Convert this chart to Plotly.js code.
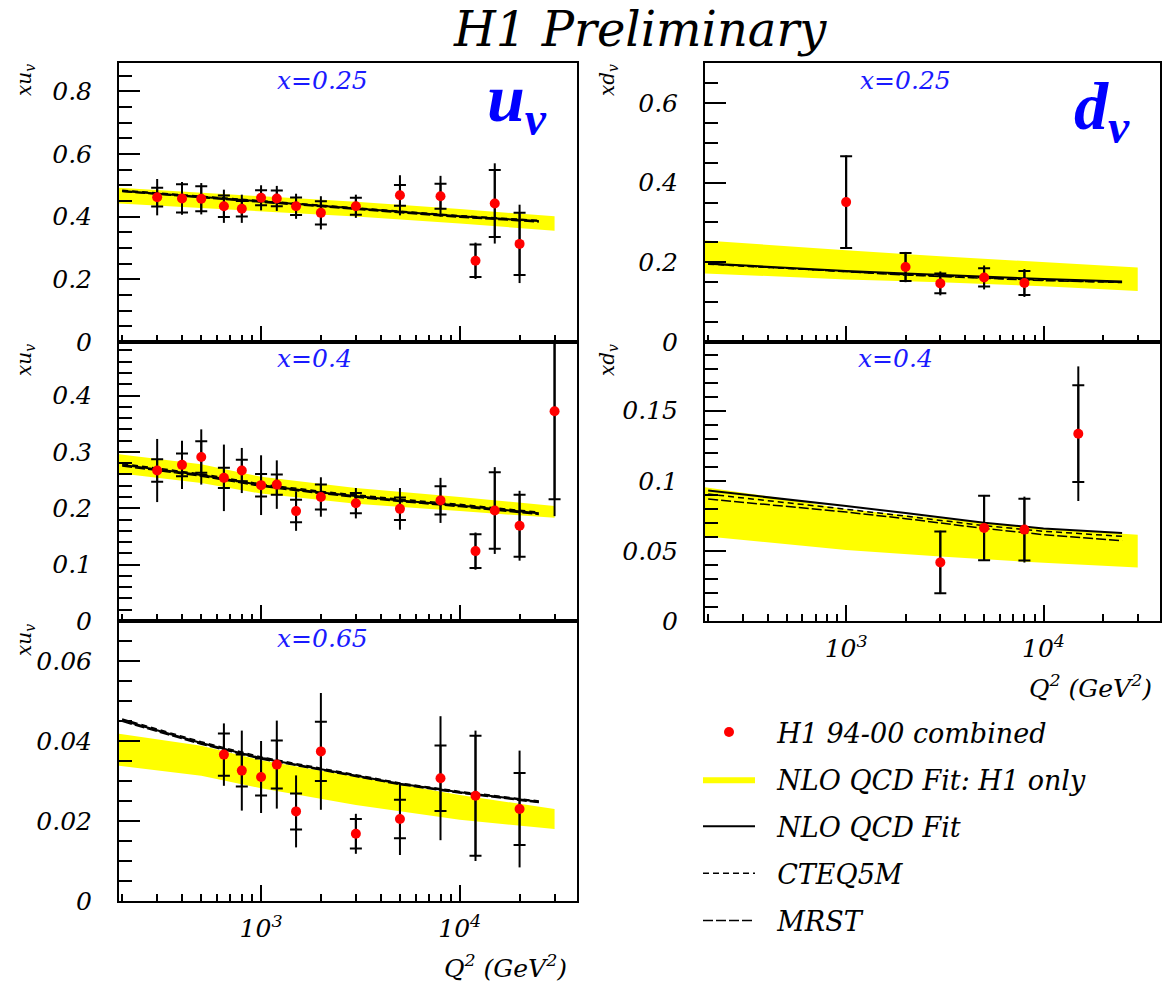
<!DOCTYPE html>
<html>
<head>
<meta charset="utf-8">
<script src="https://cdn.plot.ly/plotly-3.0.1.min.js"></script>
<style>body{margin:0;background:#fff}#plot{width:1164px;height:985px}</style>
</head>
<body>
<div id="plot"></div>
<script>
// Q2 nodes used for the theory curves and the H1-only error band
var curveQ2 = [200, 500, 1000, 2000, 5000, 10000, 25000];
var bandQ2 = [192, 500, 1000, 3000, 10000, 30000];

// xu_v at x=0.25
var uv25Q2 = [300, 400, 500, 650, 800, 1000, 1200, 1500, 2000, 3000, 5000, 8000, 12000, 15000, 20000];
var uv25Val = [0.462, 0.458, 0.457, 0.433, 0.425, 0.460, 0.458, 0.433, 0.412, 0.433, 0.468, 0.465, 0.259, 0.442, 0.313];
var uv25Stat = [0.030, 0.045, 0.040, 0.034, 0.025, 0.024, 0.025, 0.028, 0.037, 0.027, 0.033, 0.040, 0.052, 0.107, 0.099];
var uv25Tot = [0.058, 0.052, 0.050, 0.053, 0.045, 0.040, 0.040, 0.040, 0.053, 0.037, 0.064, 0.065, 0.058, 0.128, 0.125];
var uv25Fit = [0.482, 0.463, 0.448, 0.434, 0.414, 0.401, 0.386];
var uv25Cteq = [0.484, 0.465, 0.450, 0.435, 0.416, 0.403, 0.388];
var uv25Mrst = [0.480, 0.461, 0.446, 0.431, 0.411, 0.398, 0.383];
var uv25Lo = [0.442, 0.428, 0.417, 0.400, 0.378, 0.355];
var uv25Hi = [0.492, 0.477, 0.466, 0.447, 0.424, 0.401];

// xu_v at x=0.4
var uv40Q2 = [300, 400, 500, 650, 800, 1000, 1200, 1500, 2000, 3000, 5000, 8000, 12000, 15000, 20000, 30000];
var uv40Val = [0.267, 0.277, 0.291, 0.254, 0.267, 0.241, 0.242, 0.195, 0.220, 0.209, 0.199, 0.214, 0.124, 0.196, 0.169, 0.372];
var uv40Stat = [0.020, 0.020, 0.028, 0.018, 0.019, 0.020, 0.018, 0.020, 0.022, 0.018, 0.020, 0.025, 0.030, 0.068, 0.055, 0.156];
var uv40Tot = [0.056, 0.043, 0.049, 0.059, 0.040, 0.053, 0.043, 0.035, 0.035, 0.027, 0.037, 0.040, 0.033, 0.077, 0.062, 0.186];
var uv40Fit = [0.277, 0.259, 0.241, 0.228, 0.214, 0.205, 0.191];
var uv40Cteq = [0.279, 0.261, 0.243, 0.230, 0.216, 0.207, 0.193];
var uv40Mrst = [0.275, 0.257, 0.239, 0.226, 0.212, 0.203, 0.189];
var uv40Lo = [0.262, 0.245, 0.226, 0.208, 0.195, 0.183];
var uv40Hi = [0.296, 0.278, 0.256, 0.236, 0.220, 0.204];

// xu_v at x=0.65
var uv65Q2 = [650, 800, 1000, 1200, 1500, 2000, 3000, 5000, 8000, 12000, 20000];
var uv65Val = [0.0366, 0.0326, 0.0310, 0.0341, 0.0224, 0.0374, 0.0168, 0.0205, 0.0307, 0.0263, 0.0230];
var uv65Stat = [0.0053, 0.0040, 0.0046, 0.0060, 0.0045, 0.0074, 0.0037, 0.0048, 0.0082, 0.0150, 0.0090];
var uv65Tot = [0.0078, 0.0100, 0.0090, 0.0110, 0.0090, 0.0146, 0.0050, 0.0090, 0.0155, 0.0163, 0.0146];
var uv65Fit = [0.0452, 0.0395, 0.0357, 0.0330, 0.0293, 0.0272, 0.0248];
var uv65Cteq = [0.0455, 0.0398, 0.0360, 0.0332, 0.0295, 0.0274, 0.0250];
var uv65Mrst = [0.0449, 0.0392, 0.0355, 0.0328, 0.0291, 0.0270, 0.0246];
var uv65Lo = [0.0338, 0.0313, 0.0282, 0.0240, 0.0203, 0.0180];
var uv65Hi = [0.0418, 0.0388, 0.0352, 0.0310, 0.0265, 0.0230];

// xd_v at x=0.25
var dv25Q2 = [1000, 2000, 3000, 5000, 8000];
var dv25Val = [0.351, 0.188, 0.147, 0.162, 0.148];
var dv25Stat = [0.115, 0.035, 0.025, 0.023, 0.030];
var dv25Tot = [0.117, 0.038, 0.030, 0.030, 0.035];
var dv25Fit = [0.197, 0.186, 0.178, 0.172, 0.163, 0.158, 0.152];
var dv25Cteq = [0.195, 0.184, 0.176, 0.169, 0.161, 0.155, 0.149];
var dv25Mrst = [0.196, 0.185, 0.175, 0.168, 0.160, 0.154, 0.150];
var dv25Lo = [0.172, 0.163, 0.157, 0.150, 0.140, 0.128];
var dv25Hi = [0.255, 0.240, 0.230, 0.215, 0.200, 0.187];

// xd_v at x=0.4
var dv40Q2 = [3000, 5000, 8000, 15000];
var dv40Val = [0.0418, 0.0664, 0.0652, 0.1336];
var dv40Stat = [0.0220, 0.0230, 0.0220, 0.0345];
var dv40Tot = [0.0226, 0.0235, 0.0235, 0.0480];
var dv40Fit = [0.0930, 0.0870, 0.0820, 0.0770, 0.0700, 0.0660, 0.0628];
var dv40Cteq = [0.0905, 0.0845, 0.0797, 0.0748, 0.0680, 0.0640, 0.0604];
var dv40Mrst = [0.0870, 0.0820, 0.0777, 0.0730, 0.0660, 0.0616, 0.0572];
var dv40Lo = [0.0604, 0.0550, 0.0507, 0.0460, 0.0415, 0.0382];
var dv40Hi = [0.0954, 0.0870, 0.0797, 0.0730, 0.0660, 0.0616];

var majorQ2 = [1000, 10000];
var majorText = ['10<sup>3</sup>', '10<sup>4</sup>'];
var minorQ2 = [200, 300, 400, 500, 600, 700, 800, 900, 2000, 3000, 4000, 5000, 6000, 7000, 8000, 9000, 20000, 30000, 40000];

var W = 1164, H = 985;
function px(v){ return v / W; }
function py(v){ return 1 - v / H; }

var serif = 'DejaVu Serif';
var pad = '\u00a0\u00a0';
var traces = [];

function addPanel(n, q2, val, stat, tot, fit, cteq, mrst, lo, hi, legend){
    var xa = n == 1 ? 'x' : 'x' + n;
    var ya = n == 1 ? 'y' : 'y' + n;
    traces.push({
        type: 'scatter', x: bandQ2, y: lo, xaxis: xa, yaxis: ya,
        mode: 'lines', line: {width: 0, color: '#ffff00'},
        showlegend: false, hoverinfo: 'skip'
    });
    traces.push({
        type: 'scatter', x: bandQ2, y: hi, xaxis: xa, yaxis: ya,
        mode: 'lines', line: {width: 0, color: '#ffff00'},
        fill: 'tonexty', fillcolor: '#ffff00',
        name: pad + 'NLO QCD Fit: H1 only', legendgroup: 'b', legendrank: 2,
        showlegend: legend
    });
    traces.push({
        type: 'scatter', x: curveQ2, y: cteq, xaxis: xa, yaxis: ya,
        mode: 'lines', line: {color: 'black', width: 1.5, dash: '6px,4px'},
        name: pad + 'CTEQ5M', legendgroup: 'd', legendrank: 4, showlegend: legend
    });
    traces.push({
        type: 'scatter', x: curveQ2, y: mrst, xaxis: xa, yaxis: ya,
        mode: 'lines', line: {color: 'black', width: 1.5, dash: '10px,3px'},
        name: pad + 'MRST', legendgroup: 'e', legendrank: 5, showlegend: legend
    });
    traces.push({
        type: 'scatter', x: curveQ2, y: fit, xaxis: xa, yaxis: ya,
        mode: 'lines', line: {color: 'black', width: 2},
        name: pad + 'NLO QCD Fit', legendgroup: 'c', legendrank: 3, showlegend: legend
    });
    // statistical error: the short cross bars
    traces.push({
        type: 'scatter', x: q2, y: val, xaxis: xa, yaxis: ya,
        mode: 'markers', marker: {size: 1, color: 'rgba(0,0,0,0)'},
        error_y: {type: 'data', array: stat, color: 'black', thickness: 2, width: 6},
        showlegend: false, hoverinfo: 'skip'
    });
    traces.push({
        type: 'scatter', x: q2, y: val, xaxis: xa, yaxis: ya,
        mode: 'markers', marker: {size: 10, color: '#ff0000'},
        error_y: {type: 'data', array: tot, color: 'black', thickness: 2, width: 0},
        name: pad + 'H1 94-00 combined', legendgroup: 'a', legendrank: 1, showlegend: legend
    });
}

addPanel(1, uv25Q2, uv25Val, uv25Stat, uv25Tot, uv25Fit, uv25Cteq, uv25Mrst, uv25Lo, uv25Hi, true);
addPanel(2, uv40Q2, uv40Val, uv40Stat, uv40Tot, uv40Fit, uv40Cteq, uv40Mrst, uv40Lo, uv40Hi, false);
addPanel(3, uv65Q2, uv65Val, uv65Stat, uv65Tot, uv65Fit, uv65Cteq, uv65Mrst, uv65Lo, uv65Hi, false);
addPanel(4, dv25Q2, dv25Val, dv25Stat, dv25Tot, dv25Fit, dv25Cteq, dv25Mrst, dv25Lo, dv25Hi, false);
addPanel(5, dv40Q2, dv40Val, dv40Stat, dv40Tot, dv40Fit, dv40Cteq, dv40Mrst, dv40Lo, dv40Hi, false);

var tickFont = {family: serif, style: 'italic', size: 25, color: 'black'};

function xAxis(domain, anchor, labels){
    return {
        type: 'log', domain: domain, anchor: anchor, range: [2.285, 4.59],
        showline: true, mirror: true, linecolor: 'black', linewidth: 2,
        ticks: 'inside', ticklen: 16, tickwidth: 2, tickcolor: 'black',
        tickmode: 'array', tickvals: majorQ2, ticktext: majorText,
        showticklabels: labels, tickfont: tickFont, ticklabelstandoff: 4,
        minor: {ticks: 'inside', ticklen: 7, tickwidth: 2, tickcolor: 'black',
                tickmode: 'array', tickvals: minorQ2},
        showgrid: false, zeroline: false, fixedrange: true
    };
}
function yAxis(domain, anchor, range, dtick, mdtick){
    return {
        domain: domain, anchor: anchor, range: range,
        showline: true, mirror: true, linecolor: 'black', linewidth: 2,
        ticks: 'inside', ticklen: 21, tickwidth: 2, tickcolor: 'black',
        tick0: 0, dtick: dtick, tickfont: tickFont, ticklabelstandoff: 20,
        minor: {ticks: 'inside', ticklen: 13, tickwidth: 2, tickcolor: 'black', tick0: 0, dtick: mdtick},
        showgrid: false, zeroline: false, fixedrange: true
    };
}

var left = [px(119), px(577)], right = [px(705), px(1160)];
var rowTop = [py(342), py(63)], rowMid = [py(621), py(342)], rowBot = [py(901), py(621)];

var blue = '#1a1aff';
function note(text, x, y, font, extra){
    var a = {text: text, x: px(x), y: py(y), xref: 'paper', yref: 'paper', showarrow: false,
             xanchor: 'center', yanchor: 'middle', font: font};
    for (var k in extra){ a[k] = extra[k]; }
    return a;
}
var blackFont = function(s){ return {family: serif, style: 'italic', size: s, color: 'black'}; };
var blueFont = {family: serif, style: 'italic', size: 25, color: blue};
var bigFont = {family: 'Liberation Serif', style: 'italic', weight: 'bold', size: 68, color: '#0000ff'};

var annotations = [
    note('H1 Preliminary', 640, 29, blackFont(48), {}),
    note('x=0.25', 322, 80, blueFont, {}),
    note('x=0.4', 314, 358, blueFont, {}),
    note('x=0.65', 322, 638, blueFont, {}),
    note('x=0.25', 905, 80, blueFont, {}),
    note('x=0.4', 895, 358, blueFont, {}),
    note('u<sub>v</sub>', 485, 102, bigFont, {xanchor: 'left'}),
    note('d<sub>v</sub>', 1072, 111, bigFont, {xanchor: 'left'}),
    note('xu<sub>v</sub>', 25, 80, blackFont(20), {textangle: -90}),
    note('xu<sub>v</sub>', 25, 360, blackFont(20), {textangle: -90}),
    note('xu<sub>v</sub>', 25, 640, blackFont(20), {textangle: -90}),
    note('xd<sub>v</sub>', 608, 80, blackFont(20), {textangle: -90}),
    note('xd<sub>v</sub>', 608, 360, blackFont(20), {textangle: -90}),
    note('Q<sup>2</sup> (GeV<sup>2</sup>)', 505, 966, blackFont(25), {}),
    note('Q<sup>2</sup> (GeV<sup>2</sup>)', 1090, 686, blackFont(25), {})
];

var layout = {
    width: W, height: H,
    paper_bgcolor: 'white', plot_bgcolor: 'white',
    margin: {l: 0, r: 0, t: 0, b: 0},
    xaxis: xAxis(left, 'y', false),
    yaxis: yAxis(rowTop, 'x', [0, 0.89], 0.2, 0.05),
    xaxis2: xAxis(left, 'y2', false),
    yaxis2: yAxis(rowMid, 'x2', [0, 0.495], 0.1, 0.02),
    xaxis3: xAxis(left, 'y3', true),
    yaxis3: yAxis(rowBot, 'x3', [0, 0.07], 0.02, 0.005),
    xaxis4: xAxis(right, 'y4', false),
    yaxis4: yAxis(rowTop, 'x4', [0, 0.7], 0.2, 0.05),
    xaxis5: xAxis(right, 'y5', true),
    yaxis5: yAxis(rowMid, 'x5', [0, 0.199], 0.05, 0.01),
    showlegend: true,
    legend: {
        x: px(698), y: py(708), xanchor: 'left', yanchor: 'top',
        font: {family: serif, style: 'italic', size: 27, color: 'black'},
        itemwidth: 52, tracegroupgap: 9, traceorder: 'grouped',
        bgcolor: 'rgba(0,0,0,0)', borderwidth: 0
    },
    annotations: annotations
};

Plotly.newPlot('plot', traces, layout, {staticPlot: true});
</script>
</body>
</html>
